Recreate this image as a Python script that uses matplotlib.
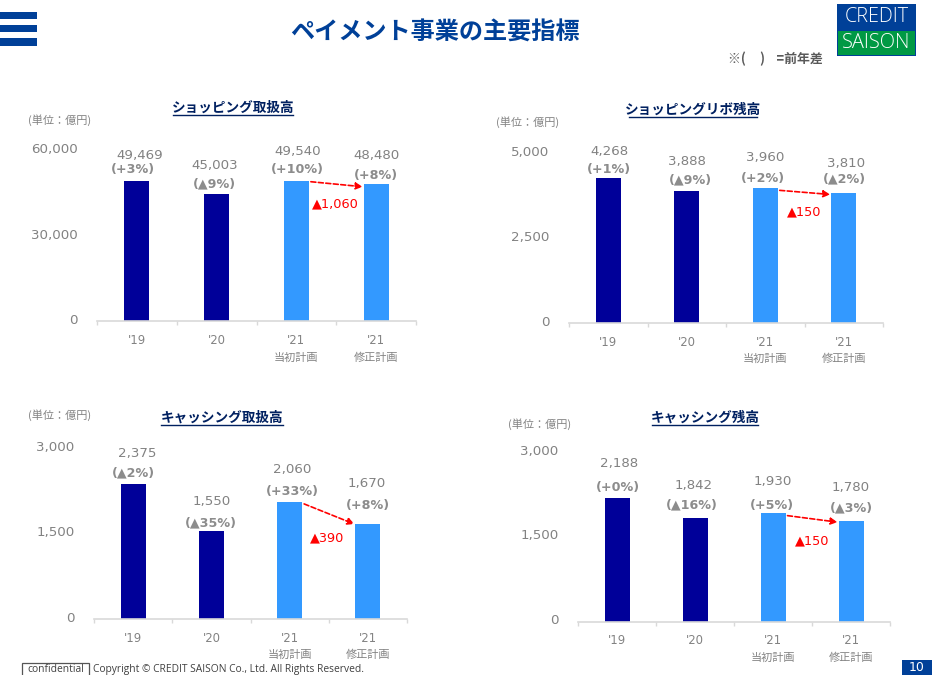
import matplotlib
matplotlib.use("Agg")
import matplotlib.pyplot as plt
from matplotlib.patches import Rectangle
from matplotlib.lines import Line2D
from matplotlib.transforms import Affine2D

W, H = 932, 675
JP = ['Noto Sans CJK JP', 'DejaVu Sans']
NUM = ['DejaVu Sans', 'Noto Sans CJK JP']
plt.rcParams['font.family'] = JP

# ---- data ----
years = ["'19", "'20", "'21", "'21"]
plan_labels = ["", "", "当初計画", "修正計画"]

titles = ["ショッピング取扱高", "ショッピングリボ残高", "キャッシング取扱高", "キャッシング残高"]
ymaxes = [60000, 5000, 3000, 3000]

shopping_volume = [49469, 45003, 49540, 48480]
revolving_balance = [4268, 3888, 3960, 3810]
cashing_volume = [2375, 1550, 2060, 1670]
cashing_balance = [2188, 1842, 1930, 1780]
series = [shopping_volume, revolving_balance, cashing_volume, cashing_balance]

yoy_shopping = ["(+3%)", "(▲9%)", "(+10%)", "(+8%)"]
yoy_revolving = ["(+1%)", "(▲9%)", "(+2%)", "(▲2%)"]
yoy_cash_vol = ["(▲2%)", "(▲35%)", "(+33%)", "(+8%)"]
yoy_cash_bal = ["(+0%)", "(▲16%)", "(+5%)", "(▲3%)"]
yoys = [yoy_shopping, yoy_revolving, yoy_cash_vol, yoy_cash_bal]

revisions = ["▲1,060", "▲150", "▲390", "▲150"]

# ---- layout (pixels from top-left of the image) ----
frames = [(97, 416, 151, 321.5), (569, 883, 153, 323), (94, 407, 448.5, 619), (578, 890, 452, 622)]
value_pos = [[(140, 155), (215, 165), (298, 151), (377, 156)],
             [(609, 151), (687, 162), (765, 158), (846, 163)],
             [(137, 454), (212, 501), (292, 470), (367, 484)],
             [(619, 464), (694, 485), (773, 482), (851, 488)]]
yoy_pos = [[(133, 170), (214, 184), (297, 170), (376, 175)],
           [(609, 169), (690, 180), (763, 178), (844, 179)],
           [(133, 473), (211, 523), (292, 491), (368, 505)],
           [(618, 487), (692, 505), (772, 505), (851, 508)]]
revision_pos = [(335.5, 204), (804.5, 212), (327.5, 538), (812, 541)]
title_pos = [(233, 108, 173, 293, 115), (693, 110, 629, 757, 117),
             (222, 418, 161, 283, 425), (705, 418, 652, 758, 425)]
unit_pos = [(60, 120.5), (528, 122.5), (60, 415.5), (540, 424.5)]
arrow_drop = [(1, 3), (2, 1), (2, 0), (3, 1)]

GRAY = '#828282'
NAVY = '#000099'
SKY = '#3399FF'
BLUE = '#004098'

fig = plt.figure(figsize=(W / 100, H / 100), dpi=100)


def fx(x):
    return x / W


def fy(y):
    return 1 - y / H


def ftext(x, y, s, **kw):
    kw.setdefault('ha', 'center')
    kw.setdefault('va', 'center')
    return fig.text(fx(x), fy(y), s, **kw)


def frect(x0, y0, x1, y1, color, **kw):
    fig.add_artist(Rectangle((fx(x0), fy(y1)), (x1 - x0) / W, (y1 - y0) / H,
                             transform=fig.transFigure, facecolor=color,
                             edgecolor='none', **kw))


# page furniture
for y0, y1 in [(12, 19), (25, 32), (38, 46)]:
    frect(0, y0, 37, y1, BLUE)
ftext(435, 32.5, "ペイメント事業の主要指標", fontsize=17.4, fontweight='bold', color=BLUE)
ftext(775, 58.5, "※(     )    =前年差", fontsize=9.3, fontweight='bold', color='#595959')

frect(837, 4, 915.5, 56, BLUE)
frect(838, 31, 914.5, 55, '#009944')
ftext(876.5, 17.5, "CREDIT", fontsize=14.2, color='white', family='Open Sans', fontweight='light')
ftext(876.5, 43, "SAISON", fontsize=14.4, color='white', family='Open Sans', fontweight='light')

fig.add_artist(Rectangle((fx(22), fy(677)), 67 / W, 14 / H, transform=fig.transFigure,
                         facecolor='white', edgecolor='#555555', linewidth=0.9))
ftext(55.5, 669, "confidential", fontsize=7.4, color='#404040', family='Open Sans')
ftext(93, 669.5, "Copyright © CREDIT SAISON Co., Ltd. All Rights Reserved.", ha='left',
      fontsize=7.35, color='#404040', family='Open Sans')
frect(902, 660, 932, 675, BLUE)
ftext(917, 667.5, "10", fontsize=9, color='white', family='DejaVu Sans')

# panels
for k in range(4):
    vals = series[k]
    x0, x1, ytop, ybase = frames[k]
    ax = fig.add_axes([fx(x0), fy(ybase), (x1 - x0) / W, (ybase - ytop) / H])
    ax.patch.set_alpha(0)
    width = 25 / ((x1 - x0) / 4)
    ax.bar(range(4), vals, width=width, color=[NAVY, NAVY, SKY, SKY], zorder=2)
    ax.set_xlim(-0.5, 3.5)
    ax.set_ylim(0, ymaxes[k])
    ax.set_yticks([0, ymaxes[k] / 2, ymaxes[k]])
    ax.set_yticklabels([f"{int(v):,}" for v in ax.get_yticks()],
                       fontsize=9.6, color=GRAY, family=NUM)
    ax.tick_params(axis='y', length=0, pad=14)
    for lab in ax.get_yticklabels():
        lab.set_transform(lab.get_transform() + Affine2D().translate(0, 2.5))
    ax.set_xticks([-0.5, 0.5, 1.5, 2.5, 3.5])
    ax.set_xticklabels([])
    ax.tick_params(axis='x', length=3, width=1, color='#d9d9d9')
    ax.set_xticks(range(4), minor=True)
    ax.set_xticklabels(years, minor=True, fontsize=8.4, color=GRAY, family=NUM)
    ax.tick_params(axis='x', which='minor', length=0, pad=9)
    for s in ['top', 'left', 'right']:
        ax.spines[s].set_visible(False)
    ax.spines['bottom'].set_color('#d9d9d9')
    ax.spines['bottom'].set_linewidth(1.2)

    for i in range(4):
        if plan_labels[i]:
            ax.annotate(plan_labels[i], xy=(i, 0), xycoords='data',
                        xytext=(0, -36), textcoords='offset pixels', ha='center', va='center',
                        fontsize=8, color=GRAY, annotation_clip=False)
        px, py = value_pos[k][i]
        ftext(px, py, f"{vals[i]:,}", fontsize=9.6, color=GRAY, family=NUM)
        px, py = yoy_pos[k][i]
        ftext(px, py, yoys[k][i], fontsize=9.2, fontweight='bold', color='#8c8c8c', family=NUM)

    d0, d1 = arrow_drop[k]
    start = ax.transData.transform((2 + width / 2, vals[2])) + (2, -d0)
    end = ax.transData.transform((3 - width / 2, vals[3])) + (-1, -d1)
    ax.annotate("", xy=end, xytext=start, xycoords='figure pixels', textcoords='figure pixels',
                arrowprops=dict(arrowstyle='-|>', color='#FF0000', linestyle=(0, (3, 1.5)),
                                linewidth=1.2, shrinkA=0, shrinkB=0, mutation_scale=10),
                annotation_clip=False)

    px, py = revision_pos[k]
    ftext(px, py, revisions[k], fontsize=9.3, color='#FF0000', family=NUM)

    tx, ty, ux0, ux1, uy = title_pos[k]
    ftext(tx, ty, titles[k], fontsize=9.8, fontweight='bold', color='#002060')
    fig.add_artist(Line2D([fx(ux0), fx(ux1)], [fy(uy), fy(uy)], color='#002060', linewidth=1.0))
    ux, uy2 = unit_pos[k]
    ftext(ux, uy2, "(単位：億円)", fontsize=8, color=GRAY)

fig.savefig("out.png", dpi=100)
